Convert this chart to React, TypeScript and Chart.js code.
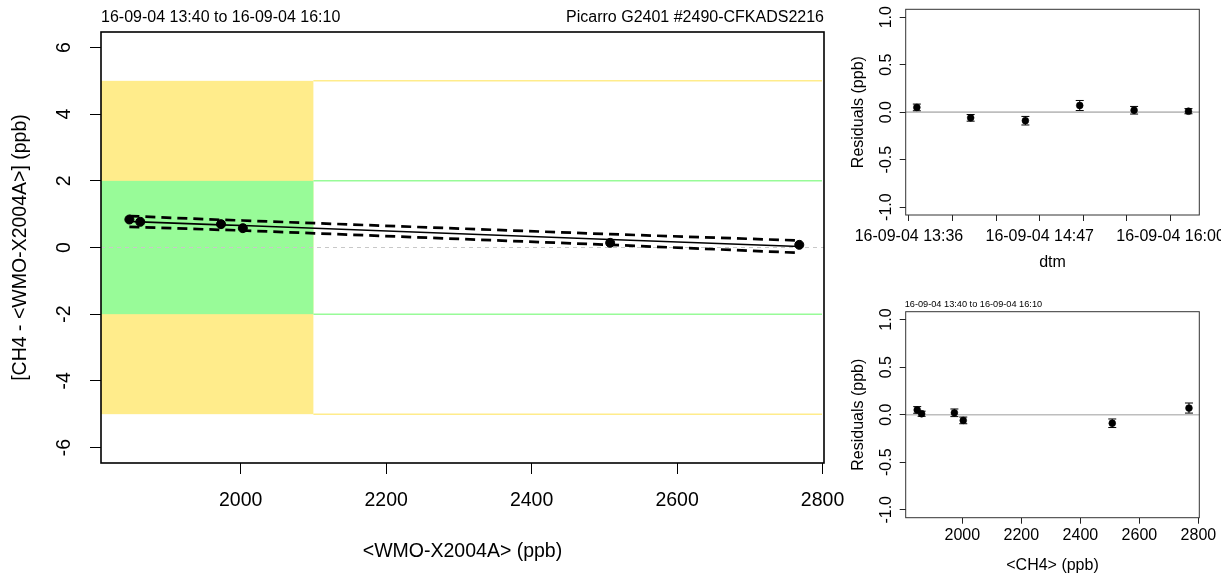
import React, { useEffect, useRef } from "react";
import { Chart, registerables } from "chart.js";

Chart.register(...registerables);

const FONT = "'Liberation Sans', Arial, Helvetica, sans-serif";

// ---- texts ----
const titleLeft = "16-09-04 13:40 to 16-09-04 16:10";
const titleRight = "Picarro G2401 #2490-CFKADS2216";
const mainXTitle = "<WMO-X2004A> (ppb)";
const mainYTitle = "[CH4 - <WMO-X2004A>] (ppb)";
const residYTitle = "Residuals (ppb)";
const dtmTitle = "dtm";
const ch4Title = "<CH4> (ppb)";

// ---- measurements (time order) ----
const dtm = ["13:40:18", "14:09:30", "14:39:12", "15:08:42", "15:38:12", "16:07:42"];
const ch4 = [1847, 2003, 2508, 2768, 1973, 1862];
const diff = [0.84, 0.58, 0.14, 0.08, 0.7, 0.77];
const fit = [0.78, 0.66, 0.24, 0.03, 0.68, 0.77];
const fitUpper = [0.94, 0.81, 0.4, 0.21, 0.83, 0.93];
const fitLower = [0.62, 0.51, 0.08, -0.16, 0.53, 0.61];
const residuals = [0.05, -0.06, -0.09, 0.07, 0.02, 0.01];
const residualErr = [0.035, 0.035, 0.045, 0.053, 0.04, 0.027];

// ---- ticks / ranges ----
const mainXTicks = [2000, 2200, 2400, 2600, 2800];
const mainYTicks = [-6, -4, -2, 0, 2, 4, 6];
const residYTicks = [-1, -0.5, 0, 0.5, 1];
const ch4Ticks = [2000, 2200, 2400, 2600, 2800];
const dtmTicks = ["13:36:00", "13:59:40", "14:23:20", "14:47:00", "15:10:40", "15:34:20", "15:58:00"];
const dtmTickLabels = ["16-09-04 13:36", "", "", "16-09-04 14:47", "", "", "16-09-04 16:00"];

const mainXRange = [1808, 2802];
const mainYRange = [-6.465, 6.465];
const residRange = [-1.083, 1.083];
const dtmRange = ["13:34:15", "16:13:35"];
const ch4Range = [1808, 2803];

// tolerance zones
const zoneEndX = 2100;
const outerLimit = 5;
const innerLimit = 2;

const YELLOW = "#FFEC8B";
const GREEN = "#98FB98";
const MAIN_SIZE = 19.5;

const toMin = (s: string) => {
  const [h, m, sec] = s.split(":").map(Number);
  return h * 60 + m + (sec || 0) / 60;
};

const fixScale = (w?: number, h?: number) => (scale: any) => {
  if (w !== undefined) scale.width = w;
  if (h !== undefined) scale.height = h;
  scale.paddingLeft = 0;
  scale.paddingRight = 0;
  scale.paddingTop = 0;
  scale.paddingBottom = 0;
};
const setTicks = (vals: number[]) => (scale: any) => {
  scale.ticks = vals.map((v) => ({ value: v }));
};

const mainDecor = {
  id: "mainDecor",
  beforeDatasetsDraw(chart: any) {
    const { ctx, chartArea } = chart;
    const { left, right, top, bottom } = chartArea;
    const xs = chart.scales.x;
    const ys = chart.scales.y;
    const xe = xs.getPixelForValue(zoneEndX);
    ctx.save();
    ctx.beginPath();
    ctx.rect(left, top, right - left, bottom - top);
    ctx.clip();
    ctx.fillStyle = YELLOW;
    ctx.fillRect(left, ys.getPixelForValue(outerLimit), xe - left, ys.getPixelForValue(-outerLimit) - ys.getPixelForValue(outerLimit));
    ctx.fillStyle = GREEN;
    ctx.fillRect(left, ys.getPixelForValue(innerLimit), xe - left, ys.getPixelForValue(-innerLimit) - ys.getPixelForValue(innerLimit));
    ctx.lineWidth = 1.5;
    const hline = (v: number, c: string, from: number) => {
      const y = ys.getPixelForValue(v);
      ctx.strokeStyle = c;
      ctx.beginPath();
      ctx.moveTo(from, y);
      ctx.lineTo(right - 2, y);
      ctx.stroke();
    };
    hline(outerLimit, YELLOW, xe);
    hline(-outerLimit, YELLOW, xe);
    hline(innerLimit, GREEN, xe);
    hline(-innerLimit, GREEN, xe);
    ctx.strokeStyle = "#c8c8c8";
    ctx.lineWidth = 1;
    ctx.setLineDash([4, 4]);
    const y0 = ys.getPixelForValue(0);
    ctx.beginPath();
    ctx.moveTo(left, y0);
    ctx.lineTo(right, y0);
    ctx.stroke();
    ctx.restore();
  },
  afterDraw(chart: any) {
    const { ctx, chartArea } = chart;
    const { left, right, top, bottom } = chartArea;
    ctx.save();
    ctx.strokeStyle = "#000";
    ctx.lineWidth = 1.6;
    ctx.strokeRect(left, top, right - left, bottom - top);
    ctx.fillStyle = "#000";
    ctx.font = `16px ${FONT}`;
    ctx.textBaseline = "middle";
    ctx.textAlign = "left";
    ctx.fillText(titleLeft, left, top - 14.5);
    ctx.textAlign = "right";
    ctx.fillText(titleRight, right, top - 14.5);
    ctx.restore();
  },
};

const makeResidDecor = (xv: number[], smallTitle?: string) => ({
  id: "residDecor",
  beforeDatasetsDraw(chart: any) {
    const { ctx, chartArea } = chart;
    const xs = chart.scales.x;
    const ys = chart.scales.y;
    ctx.save();
    ctx.strokeStyle = "#bebebe";
    ctx.lineWidth = 1.6;
    const y0 = ys.getPixelForValue(0);
    ctx.beginPath();
    ctx.moveTo(chartArea.left, y0);
    ctx.lineTo(chartArea.right, y0);
    ctx.stroke();
    ctx.strokeStyle = "#000";
    ctx.lineWidth = 1;
    xv.forEach((x, i) => {
      const px = xs.getPixelForValue(x);
      const y1 = ys.getPixelForValue(residuals[i] - residualErr[i]);
      const y2 = ys.getPixelForValue(residuals[i] + residualErr[i]);
      ctx.beginPath();
      ctx.moveTo(px, y1);
      ctx.lineTo(px, y2);
      ctx.moveTo(px - 4, y1);
      ctx.lineTo(px + 4, y1);
      ctx.moveTo(px - 4, y2);
      ctx.lineTo(px + 4, y2);
      ctx.stroke();
    });
    ctx.restore();
  },
  afterDraw(chart: any) {
    const { ctx, chartArea } = chart;
    const { left, right, top, bottom } = chartArea;
    ctx.save();
    ctx.strokeStyle = "#333";
    ctx.lineWidth = 1;
    ctx.strokeRect(left, top, right - left, bottom - top);
    if (smallTitle) {
      ctx.fillStyle = "#000";
      ctx.font = `9.2px ${FONT}`;
      ctx.textBaseline = "middle";
      ctx.textAlign = "left";
      ctx.fillText(smallTitle, left - 1, top - 7.5);
    }
    ctx.restore();
  },
});

const common = {
  animation: false as const,
  responsive: false,
  devicePixelRatio: 1,
  plugins: { legend: { display: false }, tooltip: { enabled: false } },
};

function buildMain(canvas: HTMLCanvasElement) {
  const order = ch4.map((_, i) => i).sort((a, b) => ch4[a] - ch4[b]);
  const pts = (ys: number[]) => order.map((i) => ({ x: ch4[i], y: ys[i] }));
  return new Chart(canvas, {
    type: "scatter",
    data: {
      datasets: [
        { data: pts(diff), pointRadius: 4.5, pointBackgroundColor: "#000", pointBorderColor: "#000", pointBorderWidth: 1, showLine: false },
        { data: pts(fit), showLine: true, borderColor: "#000", borderWidth: 1.6, pointRadius: 0 },
        { data: pts(fitUpper), showLine: true, borderColor: "#000", borderWidth: 2.7, borderDash: [10, 6], pointRadius: 0 },
        { data: pts(fitLower), showLine: true, borderColor: "#000", borderWidth: 2.7, borderDash: [10, 6], pointRadius: 0 },
      ],
    },
    options: {
      ...common,
      layout: { padding: { left: 0, top: 32, right: 46, bottom: 0 } },
      scales: {
        x: {
          type: "linear",
          position: "bottom",
          min: mainXRange[0],
          max: mainXRange[1],
          afterBuildTicks: setTicks(mainXTicks),
          afterFit: fixScale(undefined, 113),
          grid: { display: true, drawOnChartArea: false, drawTicks: true, tickLength: 11, color: "#000", lineWidth: 1 },
          border: { display: false },
          ticks: { autoSkip: false, maxRotation: 0, minRotation: 0, padding: 15.3, color: "#000", font: { family: FONT, size: MAIN_SIZE }, callback: (v: any) => String(v) },
          title: { display: true, text: mainXTitle, color: "#000", font: { family: FONT, size: MAIN_SIZE }, padding: { top: 0, bottom: 12.3 } },
        },
        y: {
          type: "linear",
          position: "left",
          min: mainYRange[0],
          max: mainYRange[1],
          afterBuildTicks: setTicks(mainYTicks),
          afterFit: fixScale(101, undefined),
          grid: { display: true, drawOnChartArea: false, drawTicks: true, tickLength: 11, color: "#000", lineWidth: 1 },
          border: { display: false },
          ticks: { autoSkip: false, minRotation: 90, maxRotation: 90, crossAlign: "center", padding: 16.3, color: "#000", font: { family: FONT, size: MAIN_SIZE }, callback: (v: any) => String(v) },
          title: { display: true, text: mainYTitle, color: "#000", font: { family: FONT, size: MAIN_SIZE }, padding: { top: 9.3, bottom: 0 } },
        },
      },
    } as any,
    plugins: [mainDecor],
  });
}

function buildResid(
  canvas: HTMLCanvasElement,
  xv: number[],
  xRange: number[],
  xTicks: number[],
  xLabel: (v: any, i: number) => string,
  xTitle: string,
  xHeight: number,
  padTop: number,
  tickPad: number,
  titlePadBottom: number,
  smallTitle?: string
) {
  return new Chart(canvas, {
    type: "scatter",
    data: {
      datasets: [
        { data: xv.map((x, i) => ({ x, y: residuals[i] })), pointRadius: 3.4, pointBackgroundColor: "#000", pointBorderColor: "#000", pointBorderWidth: 0.6 },
      ],
    },
    options: {
      ...common,
      layout: { padding: { left: 0, top: padTop, right: 21.7, bottom: 0 } },
      scales: {
        x: {
          type: "linear",
          position: "bottom",
          min: xRange[0],
          max: xRange[1],
          afterBuildTicks: setTicks(xTicks),
          afterFit: fixScale(undefined, xHeight),
          grid: { display: true, drawOnChartArea: false, drawTicks: true, tickLength: 6, color: "#222", lineWidth: 1 },
          border: { display: false },
          ticks: { autoSkip: false, maxRotation: 0, minRotation: 0, padding: tickPad, color: "#000", font: { family: FONT, size: 16 }, callback: xLabel },
          title: { display: true, text: xTitle, color: "#000", font: { family: FONT, size: 16 }, padding: { top: 0, bottom: titlePadBottom } },
        },
        y: {
          type: "linear",
          position: "left",
          min: residRange[0],
          max: residRange[1],
          afterBuildTicks: setTicks(residYTicks),
          afterFit: fixScale(65.7, undefined),
          grid: { display: true, drawOnChartArea: false, drawTicks: true, tickLength: 6, color: "#222", lineWidth: 1 },
          border: { display: false },
          ticks: { autoSkip: false, minRotation: 90, maxRotation: 90, crossAlign: "center", padding: -0.8, color: "#000", font: { family: FONT, size: 16 }, callback: (v: any) => Number(v).toFixed(1) },
          title: { display: true, text: residYTitle, color: "#000", font: { family: FONT, size: 16 }, padding: { top: 8.7, bottom: 0 } },
        },
      },
    } as any,
    plugins: [makeResidDecor(xv, smallTitle)],
  });
}

export default function App() {
  const mainRef = useRef<HTMLCanvasElement>(null);
  const topRef = useRef<HTMLCanvasElement>(null);
  const botRef = useRef<HTMLCanvasElement>(null);

  useEffect(() => {
    const charts: Chart[] = [];
    if (mainRef.current) charts.push(buildMain(mainRef.current));
    if (topRef.current) {
      const tv = dtm.map(toMin);
      charts.push(
        buildResid(
          topRef.current,
          tv,
          dtmRange.map(toMin),
          dtmTicks.map(toMin),
          (_v: any, i: number) => dtmTickLabels[i] ?? "",
          dtmTitle,
          70,
          9.3,
          6.4,
          12.9
        )
      );
    }
    if (botRef.current) {
      charts.push(
        buildResid(
          botRef.current,
          ch4,
          ch4Range,
          ch4Ticks,
          (v: any) => String(v),
          ch4Title,
          58.3,
          26.7,
          2.7,
          0.4,
          titleLeft
        )
      );
    }
    return () => charts.forEach((c) => c.destroy());
  }, []);

  return (
    <div style={{ position: "absolute", left: 0, top: 0, width: 1221, height: 576, background: "#fff", overflow: "hidden" }}>
      <canvas ref={mainRef} width={870} height={576} style={{ position: "absolute", left: 0, top: 0, width: 870, height: 576 }} />
      <canvas ref={topRef} width={381} height={285} style={{ position: "absolute", left: 840, top: 0, width: 381, height: 285 }} />
      <canvas ref={botRef} width={381} height={291} style={{ position: "absolute", left: 840, top: 285, width: 381, height: 291 }} />
    </div>
  );
}
